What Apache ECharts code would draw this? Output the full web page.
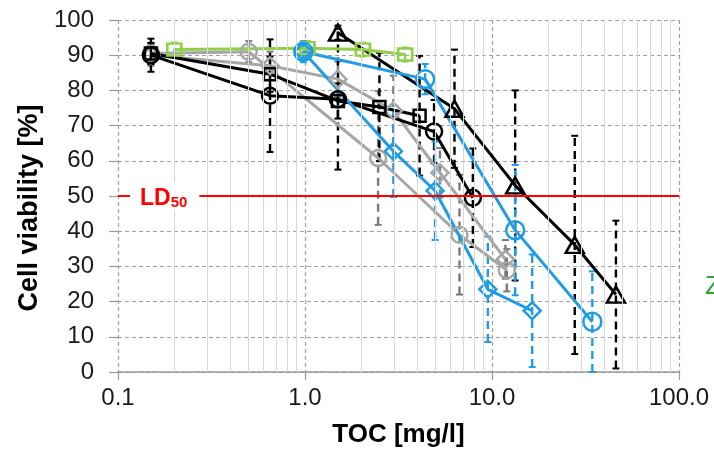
<!DOCTYPE html>
<html><head><meta charset="utf-8">
<script src="https://cdn.jsdelivr.net/npm/echarts@6/dist/echarts.min.js"></script>
<style>html,body{margin:0;padding:0;background:#fff}#c{width:714px;height:453px}</style>
</head><body><div id="c"></div>
<script>
// ---------- data ----------
const xTickLabels = ['0.1', '1.0', '10.0', '100.0'];
const minorGridX = [0.2,0.3,0.4,0.5,0.6,0.7,0.8,0.9, 2,3,4,5,6,7,8,9, 20,30,40,50,60,70,80,90];
const ld50Value = 50;

const greyCircleX   = [0.15, 0.5, 2.46, 6.7, 12.0];
const greyCircleY   = [90.5, 91, 60.8, 39, 28.9];
const greyCircleErr = [3, 3, 19, 17, 6];

const greyDiamondX   = [0.15, 0.65, 1.5, 2.97, 5.27, 11.8];
const greyDiamondY   = [90, 87, 83.2, 74.2, 56.6, 32];
const greyDiamondErr = [3, 4, 5, 10, 7, 5.5];

const blackSquareX   = [0.15, 0.65, 1.5, 2.5, 4.1];
const blackSquareY   = [90.5, 84.6, 77, 75.3, 72.8];
const blackSquareErr = [3, 5, 5, 15.4, 17];

const blackCircleX   = [0.15, 0.65, 1.5, 4.9, 7.9];
const blackCircleY   = [90, 78.5, 77.5, 68.3, 49.5];
const blackCircleErr = [4.7, 16, 20, 9, 14];

const blackTriangleX   = [1.5, 6.3, 13.3, 27.7, 46];
const blackTriangleY   = [96.4, 74.8, 53, 36.1, 22];
const blackTriangleErr = [2, 16.8, 27, 31, 21];

const greenSquareX   = [0.2, 1.03, 2.04, 3.43];
const greenSquareY   = [91.6, 92, 91.6, 90.2];
const greenSquareErr = [2, 2, 2, 2];

const blueCircleX   = [0.98, 4.39, 13.3, 34.4];
const blueCircleY   = [91, 83.2, 40.3, 14.3];
const blueCircleErr = [3, 4.3, 18.5, 14.3];

const blueDiamondX   = [0.98, 2.97, 4.96, 9.5, 16.4];
const blueDiamondY   = [91, 62.7, 51.5, 23.5, 17.4];
const blueDiamondErr = [2, 13, 14, 15, 16];

// ---------- styles ----------
const FONT = 'Liberation Sans, Arial, sans-serif';
const C_BLACK = '#000000', C_GREY = '#a6a6a6', C_GREY_ERR = '#7a7a7a';
const C_BLUE = '#1f9ce4', C_GREEN = '#8fcf4a', C_RED = '#ff0000';

function pairs(xs, ys) { return xs.map((x, i) => [x, ys[i]]); }
function errData(xs, ys, es) { return xs.map((x, i) => [x, ys[i] - es[i], ys[i] + es[i]]); }

function lineSeries(name, xs, ys, color, symbol, size, z) {
  return {
    name, type: 'line', data: pairs(xs, ys), z: z || 3,
    symbol, symbolSize: size, showSymbol: true,
    lineStyle: { color, width: 3 },
    itemStyle: { color: 'rgba(255,255,255,0)', borderColor: color, borderWidth: 2.5 },
    emphasis: { disabled: true }, animation: false
  };
}

function errSeries(xs, ys, es, color) {
  return {
    type: 'custom', data: errData(xs, ys, es), z: 2,
    encode: { x: 0, y: [1, 2] }, animation: false, silent: true,
    renderItem(params, api) {
      const x = api.value(0);
      const lo = api.coord([x, api.value(1)]);
      const hi = api.coord([x, api.value(2)]);
      const cap = 3.5;
      return { type: 'group', children: [
        { type: 'line', shape: { x1: lo[0], y1: lo[1], x2: hi[0], y2: hi[1] },
          style: { stroke: color, lineWidth: 2.4, lineDash: [8, 5] } },
        { type: 'line', shape: { x1: hi[0] - cap, y1: hi[1], x2: hi[0] + cap, y2: hi[1] },
          style: { stroke: color, lineWidth: 2 } },
        { type: 'line', shape: { x1: lo[0] - cap, y1: lo[1], x2: lo[0] + cap, y2: lo[1] },
          style: { stroke: color, lineWidth: 2 } }
      ]};
    }
  };
}

const chart = echarts.init(document.getElementById('c'), null, { renderer: 'canvas' });

const option = {
  animation: false,
  backgroundColor: '#fff',
  grid: { left: 118, right: 35, top: 20, bottom: 76, containLabel: false },
  xAxis: {
    type: 'log', logBase: 10, min: 0.1, max: 100,
    name: 'TOC [mg/l]', nameLocation: 'middle', nameGap: 50,
    nameTextStyle: { fontFamily: FONT, fontSize: 26, fontWeight: 'bold', color: '#000' },
    axisLine: { show: true, lineStyle: { color: '#999', width: 1.5 } },
    axisTick: { show: true, length: 8, lineStyle: { color: '#999', width: 1.2 } },
    axisLabel: {
      fontFamily: FONT, fontSize: 24, color: '#1a1a1a', margin: 14,
      formatter: (v) => xTickLabels[Math.round(Math.log10(v)) + 1]
    },
    splitLine: { show: true, lineStyle: { color: '#a0a0a0', width: 1.2, type: [4, 3] } },
    minorTick: { show: false }
  },
  yAxis: {
    type: 'value', min: 0, max: 100, interval: 10,
    name: 'Cell viability [%]', nameLocation: 'middle', nameGap: 74, nameRotate: 90,
    nameTextStyle: { fontFamily: FONT, fontSize: 27, fontWeight: 'bold', color: '#000', padding: [0, 24, 0, 0] },
    axisLine: { show: false },
    axisTick: { show: true, length: 9, lineStyle: { color: '#999', width: 1.2 } },
    axisLabel: { fontFamily: FONT, fontSize: 24, color: '#1a1a1a', margin: 24 },
    splitLine: { show: true, lineStyle: { color: '#a0a0a0', width: 1.2, type: [4, 3] } }
  },
  series: [
    // minor vertical grid lines
    { type: 'line', data: [], z: 0, silent: true,
      markLine: { silent: true, symbol: 'none', animation: false,
        label: { show: false },
        lineStyle: { color: '#d9d9d9', width: 1, type: 'solid' },
        data: minorGridX.map(v => ({ xAxis: v })) } },
    // LD50 red line
    { type: 'line', data: [], z: 1, silent: true,
      markLine: { silent: true, symbol: 'none', animation: false,
        label: { show: false },
        lineStyle: { color: C_RED, width: 2, type: 'solid' },
        data: [{ yAxis: ld50Value }] } },
    errSeries(greyCircleX, greyCircleY, greyCircleErr, C_GREY_ERR),
    errSeries(greyDiamondX, greyDiamondY, greyDiamondErr, C_GREY_ERR),
    errSeries(blackSquareX, blackSquareY, blackSquareErr, C_BLACK),
    errSeries(blackCircleX, blackCircleY, blackCircleErr, C_BLACK),
    errSeries(blackTriangleX, blackTriangleY, blackTriangleErr, C_BLACK),
    errSeries(greenSquareX, greenSquareY, greenSquareErr, C_GREEN),
    errSeries(blueCircleX, blueCircleY, blueCircleErr, C_BLUE),
    errSeries(blueDiamondX, blueDiamondY, blueDiamondErr, C_BLUE),
    lineSeries('greyCircle', greyCircleX, greyCircleY, C_GREY, 'circle', 16),
    lineSeries('greyDiamond', greyDiamondX, greyDiamondY, C_GREY, 'diamond', 17),
    lineSeries('blackSquare', blackSquareX, blackSquareY, C_BLACK, 'rect', 12),
    lineSeries('blackCircle', blackCircleX, blackCircleY, C_BLACK, 'circle', 16),
    lineSeries('blackTriangle', blackTriangleX, blackTriangleY, C_BLACK, 'triangle', [18, 16]),
    lineSeries('greenSquare', greenSquareX, greenSquareY, C_GREEN, 'rect', [14, 12]),
    lineSeries('blueCircle', blueCircleX, blueCircleY, C_BLUE, 'circle', 18),
    lineSeries('blueDiamond', blueDiamondX, blueDiamondY, C_BLUE, 'diamond', 17)
  ]
};
chart.setOption(option);

// LD50 label sitting on the red line, and the clipped legend letter at the right
const p = chart.convertToPixel({ xAxisIndex: 0, yAxisIndex: 0 }, [0.1, ld50Value]);
chart.setOption({
  graphic: [
    { type: 'text', x: p[0] + 12, y: p[1], z: 50, silent: true,
      style: {
        text: '{a|LD}{b|50}', verticalAlign: 'middle', align: 'left',
        backgroundColor: '#fff', padding: [0, 12, 0, 10],
        rich: {
          a: { fontFamily: FONT, fontSize: 23, fontWeight: 'bold', fill: C_RED, lineHeight: 28, verticalAlign: 'bottom' },
          b: { fontFamily: FONT, fontSize: 15, fontWeight: 'bold', fill: C_RED, lineHeight: 15, verticalAlign: 'bottom' }
        }
      } },
    { type: 'text', x: 705, y: 287, z: 50, silent: true,
      style: { text: 'Z', fontFamily: FONT, fontSize: 26, fill: '#33a335', verticalAlign: 'middle', align: 'left' } }
  ]
});
</script>
</body></html>
